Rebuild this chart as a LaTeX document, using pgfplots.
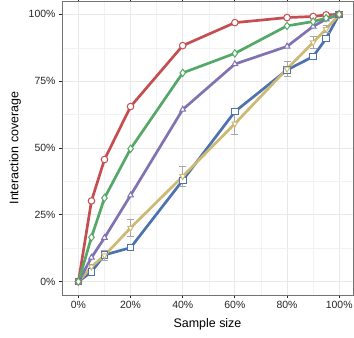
\documentclass[border=0pt]{standalone}
\usepackage{fontspec}
\setmainfont{Liberation Sans}
\usepackage{pgfplots}
\pgfplotsset{compat=1.18}
\definecolor{cred}{HTML}{C44E52}
\definecolor{cgreen}{HTML}{55A868}
\definecolor{cpurple}{HTML}{8172B2}
\definecolor{cblue}{HTML}{4C72B0}
\definecolor{ctan}{HTML}{CCB974}
\begin{document}
\begin{tikzpicture}
\path[use as bounding box] (0,0) rectangle (354bp,338bp);
\begin{axis}[at={(62bp,43bp)}, anchor=south west, width=291bp, height=294bp, scale only axis,
  xmin=-6.3, xmax=105.3, ymin=-5, ymax=105,
  xtick={0,20,...,100}, xticklabels={0\%,20\%,40\%,60\%,80\%,100\%},
  ytick={0,25,50,75,100}, yticklabels={0\%,25\%,50\%,75\%,100\%},
  minor xtick={10,30,50,70,90}, minor ytick={12.5,37.5,62.5,87.5},
  grid=both, major grid style={color=black!9, line width=0.9bp}, minor grid style={color=black!5, line width=0.5bp},
  axis line style={black!55, line width=0.9bp},
  tick align=outside, major tick length=3bp, minor tick length=0pt, tick style={black!85, line width=0.8bp},
  tick label style={font=\fontsize{10.5}{12}\selectfont, text=black!85},
  label style={font=\fontsize{12.5}{14}\selectfont},
  xlabel={Sample size}, ylabel={Interaction coverage},
  xlabel style={yshift=-3bp}, ylabel style={yshift=1bp},
  every axis plot/.append style={line width=2.7bp, mark size=3.3bp, mark options={fill=white, line width=1bp, solid}},
]
\addplot[cblue, mark=square*] coordinates {(0,0) (5,3.7) (10,10) (20,12.7) (40,37.9) (60,63.6) (80,79.2) (90,84.2) (95,91) (100,100)};
\addplot[ctan, mark=triangle*, mark options={rotate=180, fill=white, line width=1bp},
  error bars/.cd, y dir=both, y explicit,
  error bar style={gray!70, line width=0.9bp},
  error mark options={rotate=90, mark size=3.5bp, gray!70, line width=0.9bp}]
  coordinates {(0,0) +- (0,0) (5,5.6) +- (0,0.8) (10,9.8) +- (0,2) (20,20.1) +- (0,3.1) (40,39.4) +- (0,3.7) (60,59.1) +- (0,4.2) (80,79.6) +- (0,2.7) (90,89.5) +- (0,2.3) (95,94.5) +- (0,1.4) (100,100) +- (0,0)};
\addplot[cpurple, mark=triangle*] coordinates {(0,0) (5,9) (10,16.4) (20,32.3) (40,64.4) (60,81.4) (80,88) (90,95.5) (95,98.2) (100,100)};
\addplot[cred, mark=*] coordinates {(0,0) (5,30.2) (10,45.7) (20,65.5) (40,88.3) (60,96.9) (80,98.8) (90,99.2) (95,99.8) (100,100)};
\addplot[cgreen, mark=diamond*, mark size=3.7bp] coordinates {(0,0) (5,16.6) (10,31.3) (20,49.7) (40,78.1) (60,85.4) (80,95.7) (90,97.3) (95,98.6) (100,100)};
\end{axis}
\end{tikzpicture}
\end{document}
